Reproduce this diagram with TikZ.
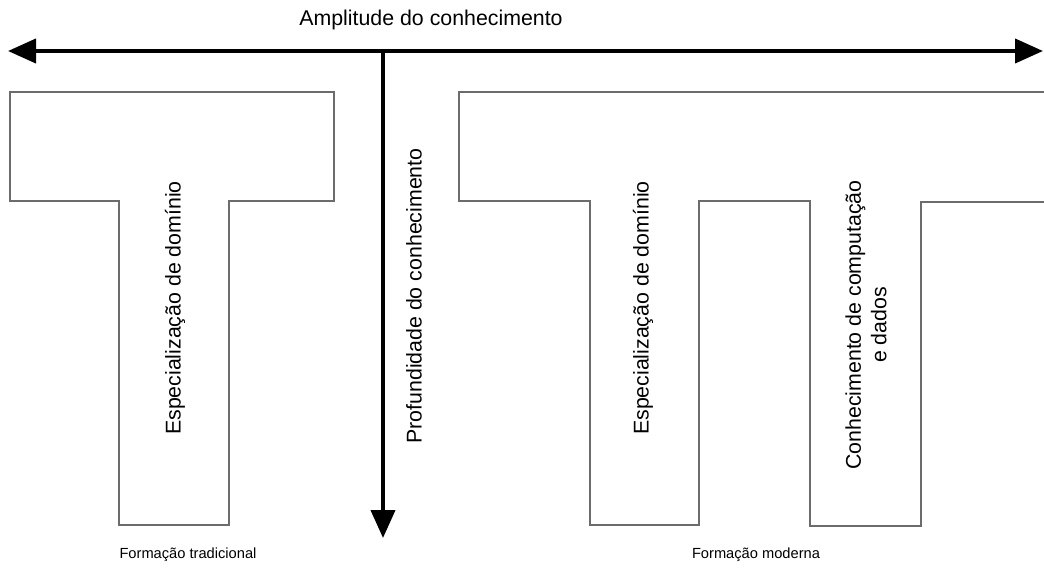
\documentclass[tikz,border=0pt]{standalone}
\usepackage{fontspec}
\setmainfont{Liberation Sans}
\usetikzlibrary{arrows.meta, positioning}

\begin{document}
\begin{tikzpicture}[x=0.75pt, y=-0.75pt,
    outline/.style={draw=gray!85!black, line width=1pt},
    axisarrow/.style={line width=3pt, -{Triangle[length=21pt, width=18pt]}},
    biglbl/.style={font=\fontsize{16}{19}\selectfont, inner sep=0pt},
    smalllbl/.style={font=\fontsize{11}{13}\selectfont, inner sep=0pt}]
    \useasboundingbox (0,0) rectangle (1044,570);

    % Axes
    \coordinate (ampleft) at (8,51);
    \coordinate (ampright) at (1043,51);
    \coordinate (proftop) at (383,51);
    \coordinate (profend) at (383,538);
    \draw [axisarrow] (proftop) -- (ampleft);
    \draw [axisarrow] (proftop) -- (ampright);
    \draw [axisarrow] (proftop) -- (profend);
    \node [biglbl] (amplitude) at (431,20) {Amplitude do conhecimento};
    \node [biglbl, rotate=90] (profundidade) at (414,296) {Profundidade do conhecimento};

    % Traditional T shape
    \draw [outline] (10,92) -- (334,92) -- (334,201) -- (229,201) -- (229,525)
        -- (119,525) -- (119,201) -- (10,201) -- cycle;
    \node [biglbl, rotate=90] (espec1) at (175,308) {Especialização de domínio};
    \node [smalllbl] (tradicional) at (188,555) {Formação tradicional};

    % Modern Pi shape
    \draw [outline] (1060,92) -- (459,92) -- (459,201) -- (590,201) -- (590,525)
        -- (699,525) -- (699,201) -- (810,201) -- (810,526) -- (921,526)
        -- (921,202) -- (1060,202);
    \node [biglbl, rotate=90] (espec2) at (643,308) {Especialização de domínio};
    \node [biglbl, rotate=90, align=center] (computacao) at (866,325)
        {Conhecimento de computação\\e dados};
    \node [smalllbl] (moderna) at (756,555) {Formação moderna};
\end{tikzpicture}
\end{document}
